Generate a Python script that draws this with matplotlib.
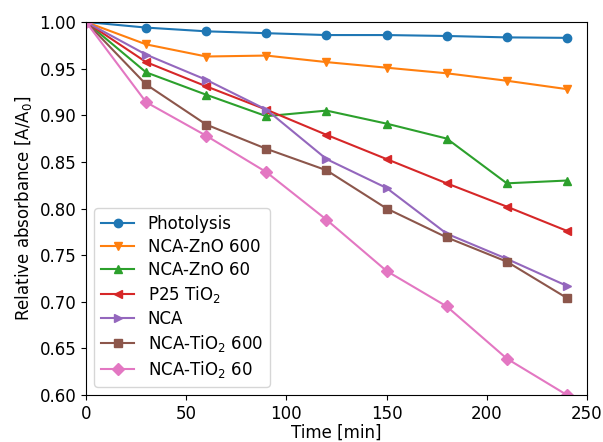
import matplotlib
matplotlib.use("Agg")
import matplotlib.pyplot as plt

time = [0, 30, 60, 90, 120, 150, 180, 210, 240]
labels = ["Photolysis", "NCA-ZnO 600", "NCA-ZnO 60", "P25 TiO$_2$", "NCA",
          "NCA-TiO$_2$ 600", "NCA-TiO$_2$ 60"]
photolysis = [1.0, 0.994, 0.990, 0.988, 0.986, 0.986, 0.985, 0.9835, 0.983]
zno600 = [1.0, 0.976, 0.963, 0.964, 0.957, 0.951, 0.945, 0.937, 0.928]
zno60 = [1.0, 0.946, 0.922, 0.899, 0.905, 0.891, 0.875, 0.827, 0.830]
p25 = [1.0, 0.957, 0.931, 0.906, 0.879, 0.853, 0.827, 0.802, 0.776]
nca = [1.0, 0.965, 0.938, 0.906, 0.853, 0.822, 0.773, 0.746, 0.717]
tio2_600 = [1.0, 0.933, 0.890, 0.864, 0.841, 0.800, 0.769, 0.743, 0.704]
tio2_60 = [1.0, 0.914, 0.878, 0.839, 0.788, 0.733, 0.695, 0.639, 0.600]

series = [photolysis, zno600, zno60, p25, nca, tio2_600, tio2_60]
markers = ["o", "v", "^", "<", ">", "s", "D"]

fig = plt.figure(figsize=(6.03, 4.42), dpi=100)
ax = fig.add_axes([86/603, 1 - 395/442, 501/603, 373/442])
for y, lab, m in zip(series, labels, markers):
    ax.plot(time, y, marker=m, label=lab)
ax.set_xlim(0, 250)
ax.set_ylim(0.60, 1.00)
ax.set_xlabel("Time [min]", fontsize=12, labelpad=1)
ax.set_ylabel("Relative absorbance [A/A$_0$]", fontsize=12)
ax.tick_params(labelsize=12)
ax.legend(loc="lower left", fontsize=12, labelspacing=0.3)
fig.savefig("out.png", dpi=100)
